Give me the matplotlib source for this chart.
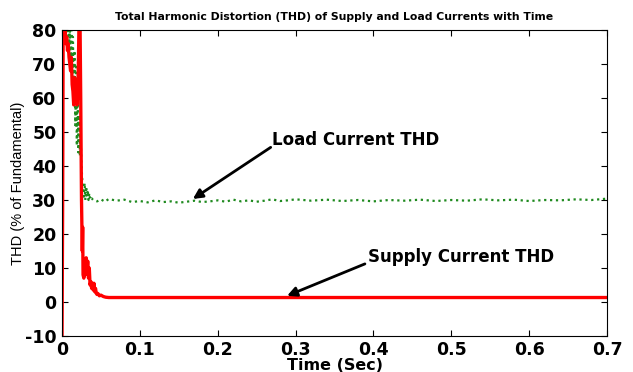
import matplotlib
matplotlib.use('Agg')
import matplotlib.pyplot as plt

plt.rcParams['font.family'] = ['DejaVu Sans']
plt.rcParams['axes.unicode_minus'] = False

# supply current THD (red)
t_supply = [0.0, 0.0008, 0.0015, 0.002, 0.003, 0.004, 0.005, 0.006, 0.007, 0.008,
            0.009, 0.010, 0.011, 0.012, 0.013, 0.014, 0.015, 0.016, 0.017, 0.018,
            0.019, 0.020, 0.021, 0.022, 0.023, 0.024, 0.025, 0.026, 0.0265, 0.027,
            0.028, 0.029, 0.030, 0.031, 0.032, 0.033, 0.034, 0.035, 0.036, 0.037,
            0.038, 0.039, 0.040, 0.041, 0.042, 0.043, 0.044, 0.045, 0.046, 0.048,
            0.050, 0.053, 0.056, 0.060, 0.065, 0.070, 0.080, 0.10, 0.20, 0.30,
            0.40, 0.50, 0.60, 0.70]
thd_supply = [-10, 30, 85, 82, 79, 80, 76, 78, 74, 76,
              72, 70, 68, 72, 64, 62, 58, 66, 60, 62,
              58, 60, 70, 85, 85, 60, 30, 15, 22, 8,
              7, 12, 8, 13, 9, 12, 7, 10, 5, 6,
              4, 5.5, 3.5, 5.5, 3, 4, 2.5, 2.2, 2.5, 1.8,
              2, 1.6, 1.4, 1.3, 1.3, 1.3, 1.3, 1.3, 1.3, 1.3,
              1.3, 1.3, 1.3, 1.3]

# load current THD (green dotted)
t_load = [0.006, 0.007, 0.008, 0.009, 0.010, 0.011, 0.012, 0.013, 0.014, 0.015,
          0.016, 0.017, 0.018, 0.019, 0.020, 0.021, 0.022, 0.023, 0.024, 0.025,
          0.026, 0.027, 0.028, 0.029, 0.030, 0.031, 0.032, 0.033, 0.034, 0.035,
          0.036, 0.038, 0.040, 0.045, 0.050, 0.055, 0.060, 0.070, 0.080, 0.090,
          0.10, 0.11, 0.12, 0.13, 0.14, 0.15, 0.16, 0.17, 0.18, 0.19,
          0.20, 0.21, 0.22, 0.23, 0.24, 0.25, 0.26, 0.27, 0.28, 0.29,
          0.30, 0.32, 0.34, 0.36, 0.38, 0.40, 0.42, 0.44, 0.46, 0.48,
          0.50, 0.52, 0.54, 0.56, 0.58, 0.60, 0.62, 0.64, 0.66, 0.68,
          0.70]
thd_load = [80, 78, 80, 76, 80, 72, 80, 66, 78, 60,
            74, 52, 70, 46, 62, 44, 55, 43, 48, 40,
            36, 33, 31, 35, 30, 34, 31, 33, 30, 32,
            30, 30.5, 30, 29.6, 30.2, 29.5, 30.3, 29.8, 30.1, 29.4,
            29.7, 29.3, 29.9, 29.4, 29.6, 29.2, 29.5, 29.8, 29.4, 29.6,
            29.9, 29.5, 30.1, 29.6, 29.9, 29.5, 29.8, 30.2, 29.7, 29.9,
            30.2, 29.8, 30.1, 29.7, 30.0, 29.6, 30.0, 29.8, 30.1, 29.7,
            30.0, 29.8, 30.2, 29.9, 30.1, 29.7, 30.0, 29.9, 30.2, 30.0,
            30.4]

fig = plt.figure(figsize=(6.33, 3.72), dpi=100)
ax = fig.add_axes([0.098, 0.097, 0.861, 0.822])

ax.plot(t_load, thd_load, color='#1f8a1f', linestyle=':', linewidth=1.6)
ax.plot(t_supply, thd_supply, color='#ff0000', linewidth=2.4)

ax.set_xlim(0, 0.7)
ax.set_ylim(-10, 80)
ax.set_xticks([0, 0.1, 0.2, 0.3, 0.4, 0.5, 0.6, 0.7])
ax.set_xticklabels(['0', '0.1', '0.2', '0.3', '0.4', '0.5', '0.6', '0.7'])
ax.set_yticks(range(-10, 81, 10))
ax.tick_params(direction='in', top=True, right=True, length=4, width=0.8,
               labelsize=12.5, pad=4)
for lbl in ax.get_xticklabels() + ax.get_yticklabels():
    lbl.set_fontweight('bold')

ax.set_xlabel('Time (Sec)', fontsize=11.5, fontweight='bold', labelpad=-1)
ax.set_ylabel('THD (% of Fundamental)', fontsize=10.5, labelpad=0,
              family='Liberation Sans')
ax.set_title('Total Harmonic Distortion (THD) of Supply and Load Currents with Time',
             fontsize=7.8, fontweight='bold', pad=7)

# annotation texts and arrows
ax.text(0.27, 46.2, 'Load Current THD', fontsize=12, fontweight='bold', va='baseline')
ax.annotate('', xy=(0.168, 30.3), xytext=(0.268, 45.5),
            arrowprops=dict(arrowstyle='-|>', color='black', lw=2,
                            mutation_scale=14, shrinkA=0, shrinkB=0))
ax.text(0.393, 11.8, 'Supply Current THD', fontsize=12, fontweight='bold', va='baseline')
ax.annotate('', xy=(0.289, 1.8), xytext=(0.389, 11.2),
            arrowprops=dict(arrowstyle='-|>', color='black', lw=2,
                            mutation_scale=14, shrinkA=0, shrinkB=0))

fig.savefig('out.png', dpi=100)
